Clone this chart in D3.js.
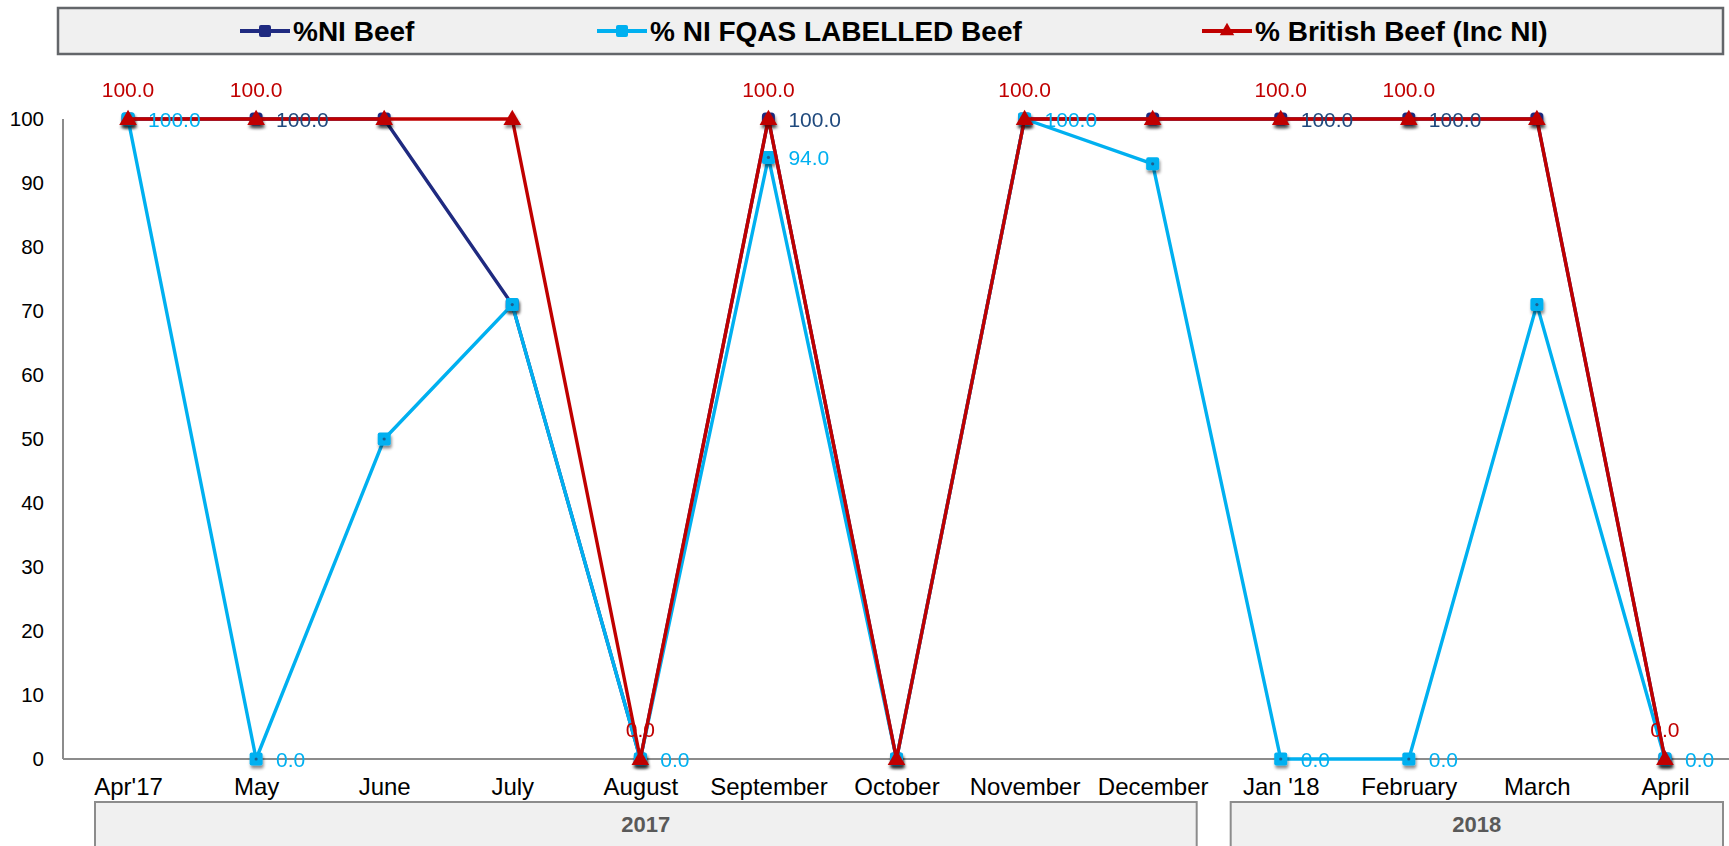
<!DOCTYPE html>
<html><head><meta charset="utf-8">
<script src="https://cdn.jsdelivr.net/npm/d3@7"></script>
<style>body{margin:0;background:#fff;}svg{display:block;font-family:"Liberation Sans",Arial,sans-serif;}</style>
</head><body><svg id="c" width="1729" height="846"></svg>
<script>
const categories = ["Apr'17","May","June","July","August","September","October","November","December","Jan '18","February","March","April"];
const niBeef     = [100,100,100,71,0,100,0,100,100,100,100,100,0];
const fqasBeef   = [100,0,50,71,0,94,0,100,93,0,0,71,0];
const britBeef   = [100,100,100,100,0,100,0,100,100,100,100,100,0];
const yTicks = [0,10,20,30,40,50,60,70,80,90,100];
const seriesNames = ["%NI Beef","% NI FQAS LABELLED Beef","% British Beef (Inc NI)"];
const niLabelIdx   = [1,5,9,10];
const fqasLabelIdx = [0,1,4,5,7,9,10,12];
const britLabelIdx = [0,1,4,5,7,9,10,12];
const years = [{label:"2017", from:0, to:8}, {label:"2018", from:9, to:12}];

const NAVY="#1F2A80", LBLUE="#00B0F0", RED="#C00000";
const svg = d3.select("#c");
const defs = svg.append("defs");
const f = defs.append("filter").attr("id","sh").attr("x","-50%").attr("y","-50%").attr("width","200%").attr("height","200%");
f.append("feDropShadow").attr("dx",1).attr("dy",3).attr("stdDeviation",1.8).attr("flood-color","#000").attr("flood-opacity",0.45);

const x = d3.scalePoint().domain(categories).range([64,1729]).padding(0.5);
const y = d3.scaleLinear().domain([0,100]).range([759,119]);
const step = x.step();

// Legend
svg.append("rect").attr("x",58).attr("y",8).attr("width",1665).attr("height",46)
  .attr("fill","#f0f0f0").attr("stroke","#63666a").attr("stroke-width",2.5);
const legendX = [240,597,1202];
const colors = [NAVY,LBLUE,RED];
seriesNames.forEach((n,i)=>{
  const g = svg.append("g").attr("transform",`translate(${legendX[i]},31)`);
  g.append("line").attr("x1",0).attr("x2",50).attr("stroke",colors[i]).attr("stroke-width",4);
  if(i===2) g.append("path").attr("d",d3.symbol(d3.symbolTriangle,90)()).attr("transform","translate(25,0)").attr("fill",RED);
  else g.append("rect").attr("x",19).attr("y",-6).attr("width",12).attr("height",12).attr("rx",2).attr("fill",colors[i]);
  g.append("text").attr("x",53).attr("y",0).attr("dy","0.35em").attr("font-size",28).attr("font-weight","bold").attr("fill","#000").text(n);
});

// Year boxes
years.forEach((yr,i)=>{
  const x0 = x(categories[yr.from]) - step/2 + (i===0?31:14);
  const x1 = x(categories[yr.to]) + step/2 - (i===0?20:6);
  svg.append("rect").attr("x",x0).attr("y",802).attr("width",x1-x0).attr("height",60)
    .attr("fill","#f0f0f0").attr("stroke","#8c8c8c").attr("stroke-width",2);
  svg.append("text").attr("x",(x0+x1)/2).attr("y",824).attr("dy","0.35em").attr("text-anchor","middle")
    .attr("font-size",22).attr("font-weight","bold").attr("fill","#595959").text(yr.label);
});

// Axes
svg.append("line").attr("x1",63).attr("x2",63).attr("y1",y(100)).attr("y2",y(0)).attr("stroke","#8c8c8c").attr("stroke-width",2);
svg.append("line").attr("x1",63).attr("x2",1729).attr("y1",y(0)).attr("y2",y(0)).attr("stroke","#8c8c8c").attr("stroke-width",2);
const yAxis = d3.axisLeft(y).tickValues(yTicks).tickSize(0).tickPadding(19);
const ya = svg.append("g").attr("transform","translate(63,0)").call(yAxis);
ya.select(".domain").remove();
ya.selectAll("text").attr("font-size",20.5).attr("fill","#000").attr("font-family","Liberation Sans, Arial, sans-serif");
const xAxis = d3.axisBottom(x).tickSize(0).tickPadding(0);
const xa = svg.append("g").attr("transform","translate(0,778)").call(xAxis);
xa.select(".domain").remove();
xa.selectAll("text").attr("font-size",24).attr("fill","#000").attr("dy","0.71em").attr("font-family","Liberation Sans, Arial, sans-serif");

const line = d3.line().x((d,i)=>x(categories[i])).y(d=>y(d));
const plot = svg.append("g");

function drawSeries(vals,color,type){
  plot.append("path").datum(vals).attr("d",line).attr("fill","none").attr("stroke",color).attr("stroke-width",3.4).attr("stroke-linejoin","round");
  const m = plot.append("g").attr("filter","url(#sh)");
  vals.forEach((v,i)=>{
    const cx=x(categories[i]), cy=y(v);
    if(type==="tri"){
      m.append("path").attr("d",d3.symbol(d3.symbolTriangle,135)()).attr("transform",`translate(${cx},${cy+1})`).attr("fill",RED);
    } else {
      m.append("rect").attr("x",cx-6.5).attr("y",cy-6.5).attr("width",13).attr("height",13).attr("rx",type==="navy"?3.5:2).attr("fill",color);
      if(type==="lb") m.append("circle").attr("cx",cx).attr("cy",cy).attr("r",1.6).attr("fill","#1f5f8f");
    }
  });
}
drawSeries(niBeef,NAVY,"navy");
drawSeries(fqasBeef,LBLUE,"lb");
drawSeries(britBeef,RED,"tri");

const lab = svg.append("g").attr("font-size",21);
niLabelIdx.forEach(i=>{
  lab.append("text").attr("x",x(categories[i])+20).attr("y",y(niBeef[i])).attr("dy","0.36em").attr("fill","#1F497D").text(niBeef[i].toFixed(1));
});
fqasLabelIdx.forEach(i=>{
  lab.append("text").attr("x",x(categories[i])+20).attr("y",y(fqasBeef[i])).attr("dy","0.36em").attr("fill",LBLUE).text(fqasBeef[i].toFixed(1));
});
britLabelIdx.forEach(i=>{
  lab.append("text").attr("x",x(categories[i])).attr("y",y(britBeef[i])-22).attr("text-anchor","middle").attr("fill",RED).text(britBeef[i].toFixed(1));
});
</script></body></html>
